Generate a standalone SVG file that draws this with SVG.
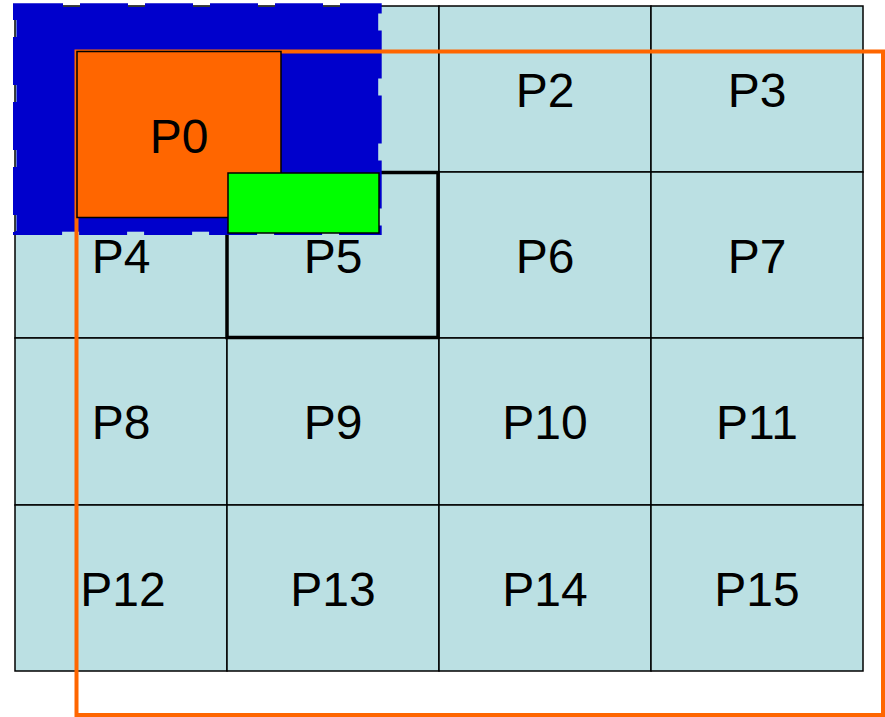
<svg xmlns="http://www.w3.org/2000/svg" width="885" height="717" viewBox="0 0 885 717">
<style>
.cell{fill:#BBE0E3;stroke:#000;stroke-width:1.5}
.lbl{font-family:"Liberation Sans",Arial,sans-serif;font-size:48px;fill:#000;text-anchor:middle}
</style>
<rect width="885" height="717" fill="#fff"/>
<g id="grid">
<g id="c0"><rect class="cell" x="15" y="6" width="212" height="166"/></g>
<g id="c1"><rect class="cell" x="227" y="6" width="212" height="166"/></g>
<g id="c2"><rect class="cell" x="439" y="6" width="212" height="166"/><text class="lbl" x="545" y="107">P2</text></g>
<g id="c3"><rect class="cell" x="651" y="6" width="212" height="166"/><text class="lbl" x="757" y="107">P3</text></g>
<g id="c4"><rect class="cell" x="15" y="172" width="212" height="166"/><text class="lbl" x="121" y="273">P4</text></g>
<g id="c5"><rect class="cell" x="227" y="172" width="212" height="166"/><text class="lbl" x="333" y="273">P5</text></g>
<g id="c6"><rect class="cell" x="439" y="172" width="212" height="166"/><text class="lbl" x="545" y="273">P6</text></g>
<g id="c7"><rect class="cell" x="651" y="172" width="212" height="166"/><text class="lbl" x="757" y="273">P7</text></g>
<g id="c8"><rect class="cell" x="15" y="338" width="212" height="167"/><text class="lbl" x="121" y="439">P8</text></g>
<g id="c9"><rect class="cell" x="227" y="338" width="212" height="167"/><text class="lbl" x="333" y="439">P9</text></g>
<g id="c10"><rect class="cell" x="439" y="338" width="212" height="167"/><text class="lbl" x="545" y="439">P10</text></g>
<g id="c11"><rect class="cell" x="651" y="338" width="212" height="167"/><text class="lbl" x="757" y="439">P11</text></g>
<g id="c12"><rect class="cell" x="15" y="505" width="212" height="166"/><text class="lbl" x="123" y="606">P12</text></g>
<g id="c13"><rect class="cell" x="227" y="505" width="212" height="166"/><text class="lbl" x="333" y="606">P13</text></g>
<g id="c14"><rect class="cell" x="439" y="505" width="212" height="166"/><text class="lbl" x="545" y="606">P14</text></g>
<g id="c15"><rect class="cell" x="651" y="505" width="212" height="166"/><text class="lbl" x="757" y="606">P15</text></g>
</g>
<g id="p5box"><rect x="227" y="172.5" width="211" height="165" fill="none" stroke="#000" stroke-width="3.5"/></g>
<g id="blue">
<rect x="16.5" y="7" width="361.7" height="224.7" fill="#0000CC"/>
<rect x="15" y="5.3" width="364.7" height="227.7" fill="none" stroke="#0000CC" stroke-width="4" stroke-dasharray="48 17"/>
</g>
<g id="outline"><rect x="76.5" y="51.5" width="806.5" height="663.5" fill="none" stroke="#FF6600" stroke-width="4"/></g>
<g id="p0"><rect x="77" y="51.5" width="204" height="166" fill="#FF6600" stroke="#000" stroke-width="1.5"/><text class="lbl" x="179" y="153">P0</text></g>
<g id="green"><rect x="228" y="173" width="151" height="60" fill="#00FF00" stroke="#000" stroke-width="1.5"/></g>
</svg>
